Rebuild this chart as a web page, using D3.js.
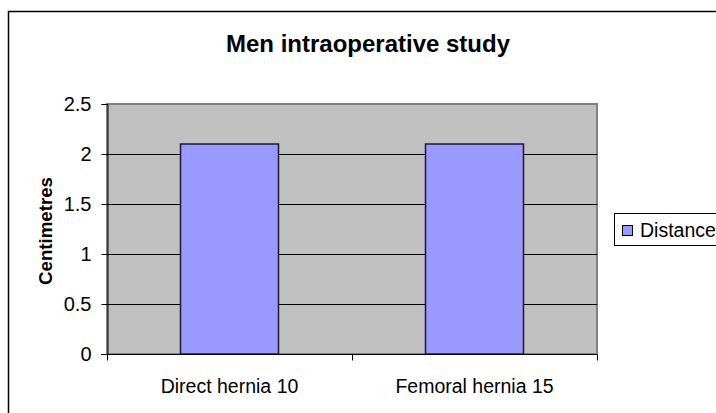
<!DOCTYPE html>
<html>
<head>
<meta charset="utf-8">
<script src="https://cdn.jsdelivr.net/npm/d3@7"></script>
<style>
  body { margin: 0; background: #fff; }
  text { font-family: "Liberation Sans", Arial, sans-serif; }
</style>
</head>
<body>
<svg id="chart" width="716" height="413"></svg>
<script>
// chart data
var categories = ['Direct hernia 10', 'Femoral hernia 15'];
var distance = [2.1, 2.1];
var yTicks = [0, 0.5, 1, 1.5, 2, 2.5];
var seriesName = 'Distance';

(function () {
  var svg = d3.select('#chart');

  // plot area bounds
  var plotLeft = 107, plotRight = 597, plotTop = 104, plotBottom = 354;

  // outer frame (runs off the right and bottom edges)
  svg.append('rect')
    .attr('x', 8.5).attr('y', 11.5)
    .attr('width', 720).attr('height', 410)
    .attr('fill', '#fff')
    .attr('stroke', '#000')
    .attr('stroke-width', 1.5);

  var x = d3.scaleBand()
    .domain(categories)
    .range([plotLeft, plotRight])
    .paddingInner(0.6)
    .paddingOuter(0.3);

  var y = d3.scaleLinear()
    .domain([0, 2.5])
    .range([plotBottom, plotTop]);

  // plot background
  svg.append('rect')
    .attr('x', plotLeft).attr('y', plotTop)
    .attr('width', plotRight - plotLeft).attr('height', plotBottom - plotTop)
    .attr('fill', '#c0c0c0')
    .attr('stroke', '#808080')
    .attr('stroke-width', 2);

  // gridlines
  svg.selectAll('.grid')
    .data(yTicks.filter(function (d) { return d > 0 && d < 2.5; }))
    .enter().append('line')
    .attr('class', 'grid')
    .attr('x1', plotLeft).attr('x2', plotRight)
    .attr('y1', function (d) { return Math.round(y(d)) + 0.5; })
    .attr('y2', function (d) { return Math.round(y(d)) + 0.5; })
    .attr('stroke', '#000')
    .attr('stroke-width', 1);

  // bars
  svg.selectAll('.bar')
    .data(distance)
    .enter().append('rect')
    .attr('class', 'bar')
    .attr('x', function (d, i) { return x(categories[i]); })
    .attr('y', function (d) { return y(d); })
    .attr('width', x.bandwidth())
    .attr('height', function (d) { return plotBottom - y(d); })
    .attr('fill', '#9999ff')
    .attr('stroke', '#1a1a33')
    .attr('stroke-width', 1.5);

  // y axis
  var yAxis = svg.append('g')
    .attr('transform', 'translate(' + (plotLeft + 0.5) + ',0)')
    .call(d3.axisLeft(y).tickValues(yTicks).tickSize(6).tickPadding(10)
      .tickFormat(function (d) { return String(d); }));
  yAxis.select('.domain').attr('stroke', '#000');
  yAxis.selectAll('line').attr('stroke', '#000');
  yAxis.selectAll('text').attr('font-size', 20).attr('fill', '#000')
    .style('font-family', '"Liberation Sans", Arial, sans-serif');

  // x axis with ticks at category boundaries
  var xAxis = svg.append('g')
    .attr('transform', 'translate(0,' + (plotBottom + 0.5) + ')');
  xAxis.append('line')
    .attr('x1', plotLeft - 6).attr('x2', plotRight)
    .attr('stroke', '#000');
  var step = (plotRight - plotLeft) / categories.length;
  xAxis.selectAll('.xt')
    .data(d3.range(categories.length + 1))
    .enter().append('line')
    .attr('x1', function (i) { return Math.round(plotLeft + i * step) + 0.5; })
    .attr('x2', function (i) { return Math.round(plotLeft + i * step) + 0.5; })
    .attr('y1', 0).attr('y2', 6)
    .attr('stroke', '#000');
  xAxis.selectAll('.xl')
    .data(categories)
    .enter().append('text')
    .attr('x', function (d) { return x(d) + x.bandwidth() / 2; })
    .attr('y', 38.5)
    .attr('text-anchor', 'middle')
    .attr('font-size', 19.5)
    .text(function (d) { return d; });

  // title
  svg.append('text')
    .attr('x', 368).attr('y', 52)
    .attr('text-anchor', 'middle')
    .attr('font-size', 24)
    .attr('font-weight', 'bold')
    .text('Men intraoperative study');

  // y axis title
  svg.append('text')
    .attr('transform', 'translate(52,231) rotate(-90)')
    .attr('text-anchor', 'middle')
    .attr('font-size', 18.7)
    .attr('font-weight', 'bold')
    .text('Centimetres');

  // legend
  var legend = svg.append('g').attr('transform', 'translate(614,213)');
  legend.append('rect')
    .attr('x', 0.5).attr('y', 0.5)
    .attr('width', 120).attr('height', 32)
    .attr('fill', '#fff').attr('stroke', '#000');
  legend.append('rect')
    .attr('x', 8.5).attr('y', 12.5)
    .attr('width', 10).attr('height', 10)
    .attr('fill', '#9999ff').attr('stroke', '#000');
  legend.append('text')
    .attr('x', 26).attr('y', 24)
    .attr('font-size', 19.5)
    .text(seriesName);
})();
</script>
</body>
</html>
